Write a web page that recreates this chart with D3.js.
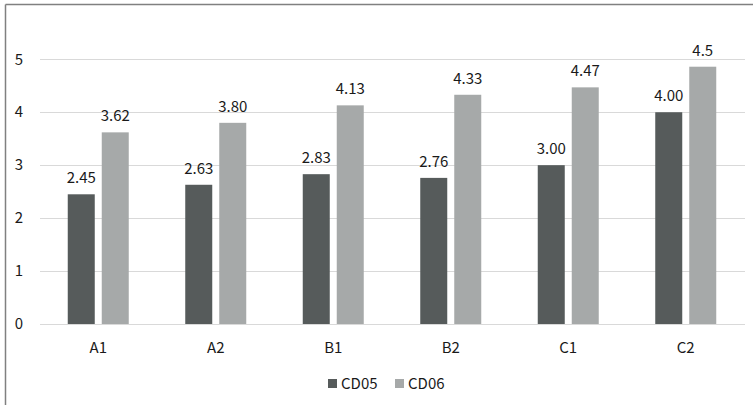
<!DOCTYPE html>
<html><head><meta charset="utf-8">
<script src="https://cdn.jsdelivr.net/npm/d3@7"></script>
<style>body{margin:0;background:#fff;}svg{display:block;font-family:"Noto Sans CJK JP","Noto Sans",sans-serif;}</style>
</head><body>
<script>
const categories = ["A1","A2","B1","B2","C1","C2"];
const seriesNames = ["CD05","CD06"];
const cd05 = [2.45, 2.63, 2.83, 2.76, 3.00, 4.00];
const cd06 = [3.62, 3.80, 4.13, 4.33, 4.47, 4.86];
const cd05Labels = ["2.45","2.63","2.83","2.76","3.00","4.00"];
const cd06Labels = ["3.62","3.80","4.13","4.33","4.47","4.5"];
const yTicks = [0,1,2,3,4,5];

const W = 753, H = 405;
const colors = ["#565b5b","#a6a9a9"];
const fs = 15;
const svg = d3.select("body").append("svg").attr("width", W).attr("height", H);

// border
svg.append("line").attr("x1",5.5).attr("x2",W).attr("y1",4.5).attr("y2",4.5).attr("stroke","#808080").attr("stroke-width",1.5);
svg.append("line").attr("x1",5.5).attr("x2",5.5).attr("y1",4.5).attr("y2",H).attr("stroke","#808080").attr("stroke-width",1.5);

const x = d3.scaleBand().domain(categories).range([40,745]);
const y = d3.scaleLinear().domain([0,5]).range([324,59.3]);

// gridlines
svg.append("g").selectAll("line").data(yTicks).join("line")
  .attr("x1",40).attr("x2",745)
  .attr("y1",d=>Math.round(y(d))+0.5).attr("y2",d=>Math.round(y(d))+0.5)
  .attr("stroke","#d9d9d9").attr("stroke-width",1);

// y axis labels
svg.append("g").selectAll("text").data(yTicks).join("text")
  .attr("x",23).attr("y",d=>y(d)).attr("dy","0.35em")
  .attr("text-anchor","end").attr("font-size",fs).attr("fill","#1a1a1a")
  .text(d=>d);

// bars
const bw = 27, gap = 7;
const series = [cd05, cd06];
const labels = [cd05Labels, cd06Labels];
series.forEach((vals, si) => {
  const off = si === 0 ? -(gap/2 + bw) : gap/2;
  const g = svg.append("g");
  g.selectAll("rect").data(vals).join("rect")
    .attr("x",(d,i)=>x(categories[i]) + x.bandwidth()/2 + off - 0.5)
    .attr("y",d=>y(d))
    .attr("width",bw)
    .attr("height",d=>y(0)-y(d))
    .attr("fill",colors[si]);
  g.selectAll("text").data(vals).join("text")
    .attr("x",(d,i)=>x(categories[i]) + x.bandwidth()/2 + off - 0.5 + bw/2)
    .attr("y",d=>y(d)-11)
    .attr("text-anchor","middle").attr("font-size",fs).attr("fill","#1a1a1a")
    .text((d,i)=>labels[si][i]);
});

// x labels
svg.append("g").selectAll("text").data(categories).join("text")
  .attr("x",d=>x(d)+x.bandwidth()/2 - 0.5).attr("y",348).attr("dy","0.35em")
  .attr("text-anchor","middle").attr("font-size",fs).attr("fill","#1a1a1a")
  .text(d=>d);

// legend
const leg = svg.append("g");
const legX = [328, 395];
seriesNames.forEach((n,i)=>{
  leg.append("rect").attr("x",legX[i]).attr("y",379).attr("width",9).attr("height",9).attr("fill",colors[i]);
  leg.append("text").attr("x",legX[i]+13).attr("y",383.5).attr("dy","0.35em")
    .attr("font-size",fs).attr("fill","#1a1a1a").text(n);
});
</script>
</body></html>
